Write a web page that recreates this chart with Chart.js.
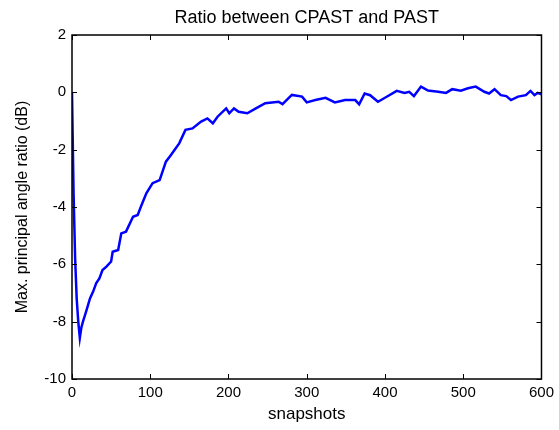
<!DOCTYPE html>
<html>
<head>
<meta charset="utf-8">
<script src="https://cdn.jsdelivr.net/npm/chart.js@4"></script>
<style>
  body { margin: 0; background: #fff; }
  #wrap { width: 559px; height: 430px; }
</style>
</head>
<body>
<div id="wrap"><canvas id="ratioChart" width="559" height="430"></canvas></div>
<script>
// valores
const snapshots = [0, 2, 4, 6, 8, 10, 12, 14, 18, 23, 27, 31, 35, 39, 44, 50, 52, 59, 63,
  69, 78, 84, 88, 95, 103, 112, 120, 126, 131, 137, 145, 154, 165, 173, 180, 186, 197, 201,
  207, 213, 224, 235, 247, 264, 269, 281, 294, 300, 311, 324, 336, 349, 362, 367, 374, 381,
  391, 400, 415, 425, 431, 437, 446, 455, 468, 478, 486, 497, 506, 516, 527, 533, 540, 548,
  555, 561, 570, 580, 586, 591, 595, 600];
const ratioDb = [0, -3.5, -5.8, -7.2, -8.0, -8.57, -8.2, -8.0, -7.65, -7.19, -6.95, -6.65,
  -6.49, -6.2, -6.08, -5.9, -5.56, -5.5, -4.92, -4.86, -4.34, -4.28, -3.99, -3.52, -3.17,
  -3.06, -2.42, -2.2, -2.01, -1.78, -1.31, -1.26, -1.02, -0.91, -1.08, -0.85, -0.56, -0.73,
  -0.56, -0.68, -0.73, -0.56, -0.38, -0.33, -0.41, -0.09, -0.15, -0.35, -0.27, -0.19, -0.35,
  -0.27, -0.27, -0.42, -0.04, -0.1, -0.33, -0.19, 0.05, -0.02, 0.02, -0.13, 0.2, 0.06, 0.02,
  -0.02, 0.11, 0.06, 0.14, 0.2, 0.02, -0.04, 0.11, -0.1, -0.13, -0.27, -0.15, -0.1, 0.05,
  -0.1, -0.02, -0.07];
const xTicks = [0, 100, 200, 300, 400, 500, 600];
const yTicks = [-10, -8, -6, -4, -2, 0, 2];
const chartTitle = "Ratio between CPAST and PAST";

const fontFamily = '"Liberation Sans", Arial, sans-serif';

// caixa, ticks para dentro e titulo centrado no eixo, estilo matlab
const matlabBox = {
  id: "matlabBox",
  afterDraw(chart) {
    const { ctx, chartArea: a, scales } = chart;
    ctx.save();
    ctx.strokeStyle = "#000";
    ctx.lineWidth = 1.5;
    ctx.strokeRect(a.left, a.top, a.right - a.left, a.bottom - a.top);
    ctx.lineWidth = 1;
    ctx.beginPath();
    xTicks.forEach((v) => {
      const px = Math.round(scales.x.getPixelForValue(v)) + 0.5;
      ctx.moveTo(px, a.bottom);
      ctx.lineTo(px, a.bottom - 5);
      ctx.moveTo(px, a.top);
      ctx.lineTo(px, a.top + 5);
    });
    yTicks.forEach((v) => {
      const py = Math.round(scales.y.getPixelForValue(v)) + 0.5;
      ctx.moveTo(a.left, py);
      ctx.lineTo(a.left + 5, py);
      ctx.moveTo(a.right, py);
      ctx.lineTo(a.right - 5, py);
    });
    ctx.stroke();

    ctx.fillStyle = "#000";
    ctx.font = "18px " + fontFamily;
    ctx.textAlign = "center";
    ctx.textBaseline = "alphabetic";
    ctx.fillText(chartTitle, (a.left + a.right) / 2, 23);
    ctx.restore();
  },
};

const ctx = document.getElementById("ratioChart").getContext("2d");
new Chart(ctx, {
  type: "line",
  data: {
    datasets: [
      {
        data: snapshots.map((s, i) => ({ x: s, y: ratioDb[i] })),
        borderColor: "#0000ff",
        borderWidth: 2.5,
        pointRadius: 0,
        tension: 0,
        fill: false,
      },
    ],
  },
  options: {
    responsive: false,
    animation: false,
    layout: { padding: { left: 0, right: 14, top: 35, bottom: 0 } },
    plugins: {
      legend: { display: false },
      tooltip: { enabled: false },
      title: { display: false },
    },
    scales: {
      x: {
        type: "linear",
        min: 0,
        max: 600,
        afterBuildTicks: (s) => { s.ticks = xTicks.map((v) => ({ value: v })); },
        afterFit: (s) => { s.height = 51; },
        ticks: {
          color: "#000",
          font: { family: fontFamily, size: 15 },
          padding: 5,
          maxRotation: 0,
        },
        grid: { display: false, drawTicks: false },
        border: { display: false },
        title: {
          display: true,
          text: "snapshots",
          color: "#000",
          font: { family: fontFamily, size: 17 },
          padding: { top: 5, bottom: 5 },
        },
      },
      y: {
        type: "linear",
        min: -10,
        max: 2,
        afterBuildTicks: (s) => { s.ticks = yTicks.map((v) => ({ value: v })); },
        afterFit: (s) => { s.width = 72; },
        ticks: {
          color: "#000",
          font: { family: fontFamily, size: 15 },
          padding: 6,
        },
        grid: { display: false, drawTicks: false },
        border: { display: false },
        title: {
          display: true,
          text: "Max. principal angle ratio (dB)",
          color: "#000",
          font: { family: fontFamily, size: 16 },
          padding: { top: 13, bottom: 13 },
        },
      },
    },
  },
  plugins: [matlabBox],
});
</script>
</body>
</html>
